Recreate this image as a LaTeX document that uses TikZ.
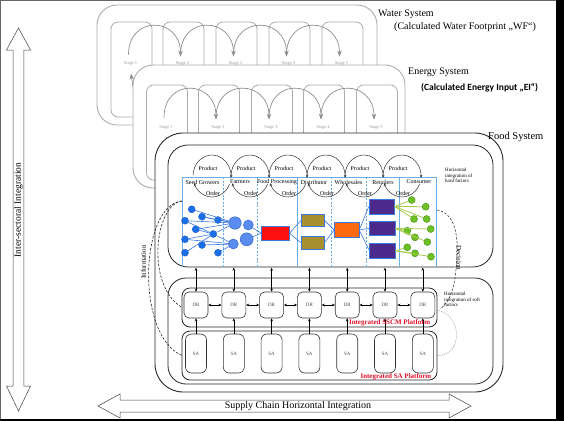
\documentclass[tikz,border=0pt]{standalone}
\usepackage{fontspec}
\setmainfont{Liberation Serif}
\newfontfamily\carlito{Carlito}
\usetikzlibrary{arrows.meta,calc}
\definecolor{sysgray}{HTML}{ABABAB}
\definecolor{arcgray}{HTML}{8E8E8E}
\definecolor{stagetxt}{HTML}{9A9A9A}
\definecolor{seedblue}{HTML}{1A6FE8}
\definecolor{seedborder}{HTML}{1050C0}
\definecolor{farmblue}{HTML}{5A8CF0}
\definecolor{farmborder}{HTML}{2A5CC8}
\definecolor{lineblue}{HTML}{3A7AE0}
\definecolor{colblue}{HTML}{6AAEE8}
\definecolor{boxred}{HTML}{FF1010}
\definecolor{boxolive}{HTML}{A8902E}
\definecolor{boxorange}{HTML}{FF6A10}
\definecolor{boxpurple}{HTML}{4B2A8C}
\definecolor{dotgreen}{HTML}{6EC024}
\definecolor{dotgreenb}{HTML}{3F8F10}
\definecolor{glines}{HTML}{A8CC50}
\definecolor{platred}{HTML}{E0102A}
\begin{document}
\begin{tikzpicture}[x=1pt,y=-1pt,
  sysbox/.style={draw=sysgray, line width=0.9pt, fill=white, rounded corners=20pt},
  stagebox/.style={draw=sysgray, line width=0.8pt, rounded corners=7pt, minimum width=41pt, minimum height=95pt, inner sep=0pt},
  stagelbl/.style={text=stagetxt, font=\fontsize{4.5}{5}\selectfont, inner sep=0.5pt},
  stagearr/.style={draw=arcgray, line width=0.7pt, -{Stealth[length=6pt,width=4.5pt]}},
  bigarrow/.style={draw=black!75, line width=0.5pt, fill=white, line join=miter},
  frame/.style={draw=black!85, line width=0.8pt, rounded corners=#1, inner sep=0pt, outer sep=0pt},
  frame/.default=8pt,
  colline/.style={draw=colblue, line width=0.6pt},
  coldash/.style={draw=colblue, line width=0.6pt, dashed, dash pattern=on 2pt off 1.5pt},
  collbl/.style={font=\fontsize{6}{7}\selectfont, inner sep=0pt},
  cyc/.style={draw=black!80, line width=0.5pt, -{Stealth[length=3pt,width=2.6pt]}},
  sdot/.style={circle, fill=seedblue, draw=seedborder, line width=0.3pt, inner sep=0pt, minimum size=7pt},
  fdot/.style={circle, fill=farmblue, draw=farmborder, line width=0.4pt, inner sep=0pt},
  gdot/.style={circle, fill=dotgreen, draw=dotgreenb, line width=0.4pt, inner sep=0pt, minimum size=7pt},
  cbox/.style={draw=lineblue, line width=0.5pt, inner sep=0pt},
  bline/.style={draw=lineblue, line width=0.6pt},
  gline/.style={draw=glines, line width=0.8pt},
  drbox/.style={draw=black!80, line width=0.6pt, rounded corners=5pt, minimum width=24pt, minimum height=26pt, inner sep=0pt, font=\fontsize{5}{6}\selectfont, text=black!70},
  sabox/.style={draw=black!80, line width=0.6pt, rounded corners=6pt, minimum width=21pt, minimum height=39pt, inner sep=0pt, font=\fontsize{5}{6}\selectfont, text=black!70},
  dbl/.style={line width=0.5pt, {Stealth[length=3pt,width=2.6pt]}-{Stealth[length=3pt,width=2.6pt]}},
  upar/.style={line width=0.5pt, -{Stealth[length=3pt,width=2.6pt]}},
  platlbl/.style={text=platred, font=\bfseries\fontsize{7}{8}\selectfont, inner sep=0.5pt},
  smalltxt/.style={font=\fontsize{5}{6}\selectfont, align=left, inner sep=0pt},
  infocurve/.style={draw=black!85, line width=0.6pt, dashed, dash pattern=on 2.5pt off 1.5pt},
]
% background and frame
\fill[black] (0,0) rectangle (564,421);
\fill[white] (0,0) rectangle (556,419);
\draw[black!60, line width=0.8pt] (0.4,419) -- (0.4,0.4) -- (556,0.4);
\useasboundingbox (0,0) rectangle (564,421);

% big arrows
\draw[bigarrow] (18.5,28) -- (30.5,50) -- (23.8,50) -- (23.8,386) -- (30.5,386) -- (18.5,411)
  -- (6.5,386) -- (13.2,386) -- (13.2,50) -- (6.5,50) -- cycle;
\node[rotate=90, font=\fontsize{9.5}{11}\selectfont, inner sep=0pt] (intl) at (18.5,210) {Inter-sectoral Integration};
\draw[bigarrow] (98,406) -- (120,394) -- (120,400) -- (449,400) -- (449,394) -- (471,406)
  -- (449,418) -- (449,412) -- (120,412) -- (120,418) -- cycle;
\node[font=\fontsize{10}{12}\selectfont, inner sep=0pt] (sclbl) at (298,406) {Supply Chain Horizontal Integration};

% ---------------- Water system
\draw[sysbox] (97,5) rectangle (377,125);
\foreach \x [count=\i] in {131.5,183.5,236.5,289.5,342.5}{
  \node[stagebox] (w\i) at (\x,69.5) {};
  \node[stagelbl, fill=white] (wl\i) at (\x-1,63) {Stage \i};
}
\foreach \i/\j in {1/2,2/3,3/4,4/5}{
  \draw[stagearr] ($(w\i.north)+(-3,33)$) .. controls +(0,-40) and +(0,-40) .. ($(w\j.north)+(-3,35)$);
}
\draw[stagearr] ($(w1.north)+(3,75)$) -- ($(w1.north)+(-0.5,52)$);
\node[anchor=west, font=\fontsize{10}{12}\selectfont, inner sep=0pt] (wsys) at (378,14) {Water System};
\node[anchor=west, font=\fontsize{10}{12}\selectfont, inner sep=0pt] (wfp) at (394,27) {(Calculated Water Footprint „WF“)};

% ---------------- Energy system
\draw[sysbox] (133,65) rectangle (405,188);
\foreach \x [count=\i] in {167,219,272,324,377}{
  \node[stagebox] (e\i) at (\x,132.5) {};
  \node[stagelbl, fill=white] (el\i) at (\x-1,127) {Stage \i};
}
\foreach \i/\j in {1/2,2/3,3/4,4/5}{
  \draw[stagearr] ($(e\i.north)+(-3,33)$) .. controls +(0,-40) and +(0,-40) .. ($(e\j.north)+(-3,35)$);
}
\draw[stagearr] ($(e1.north)+(2,72)$) -- ($(e1.north)+(-1,52)$);
\node[anchor=west, font=\fontsize{10}{12}\selectfont, inner sep=0pt] (esys) at (408,72) {Energy System};
\node[anchor=west, fill=white, inner sep=2pt, font=\carlito\bfseries\fontsize{9.5}{11}\selectfont] (ei) at (419,88) {(Calculated Energy Input „EI“)};

% ---------------- Food system
\node[frame=28pt, line width=0.9pt, fill=white, minimum width=348pt, minimum height=259pt] (food) at (329,262.5) {};
\node[anchor=west, font=\fontsize{10.5}{12}\selectfont, inner sep=0pt] (fsys) at (488,137) {Food System};
\node[frame=20pt, minimum width=325pt, minimum height=122pt] (hard) at (330.5,206) {};
\node[frame=18pt, minimum width=325pt, minimum height=106pt] (soft) at (330.5,331) {};
\node[frame=8pt, minimum width=255pt, minimum height=39pt] (drp) at (309.5,307.5) {};
\node[frame=8pt, minimum width=255pt, minimum height=49pt] (sap) at (309.5,355.5) {};

% columns
\draw[colline] (182,177) -- (436,177);
\foreach \x in {182,297,399,436}{ \draw[colline] (\x,177) -- (\x,267); }
\foreach \x in {223,257,331,366}{ \draw[coldash] (\x,177) -- (\x,267); }

% product / order cycles
\foreach \c [count=\i] in {212,250,288,326,364,402}{
  \coordinate (cy\i) at (\c,176);
  \draw[cyc] ($(cy\i)+(-178:19 and 21)$) arc[start angle=-178, end angle=5, x radius=19, y radius=21];
  \draw[cyc] ($(cy\i)+(22:19 and 21)$) arc[start angle=22, end angle=160, x radius=19, y radius=21];
  \node[collbl] (pr\i) at (\c-4,168.5) {Product};
  \node[collbl] (or\i) at (\c+1,193) {Order};
}
\node[collbl] (c1) at (202.5,182) {Seed Growers};
\node[collbl] (c2) at (240,182) {Farmers};
\node[collbl] (c3) at (277,182) {Food Processing};
\node[collbl] (c4) at (314,182) {Distributor};
\node[collbl] (c5) at (348.5,182) {Wholesales};
\node[collbl] (c6) at (383,182) {Retailers};
\node[collbl] (c7) at (419,182) {Consumer};
\node[smalltxt, anchor=north west] (hardtxt) at (445,168) {Horizontal\\[-0.6pt]integration of\\[-0.6pt]hard factors};

% hard factors network
\node[sdot] (s1) at (191.7,209.3) {};
\node[sdot] (s2) at (202,216.7) {};
\node[sdot] (s3) at (218,220) {};
\node[sdot] (s4) at (185,220.7) {};
\node[sdot] (s5) at (195.7,229.3) {};
\node[sdot] (s6) at (213.3,234) {};
\node[sdot] (s7) at (185,239.3) {};
\node[sdot] (s8) at (202,245) {};
\node[sdot] (s9) at (185,252.7) {};
\node[sdot] (s10) at (218,252.7) {};
\node[fdot, minimum size=12.5pt] (f1) at (235,223) {};
\node[fdot, minimum size=10pt] (f2) at (248.3,225) {};
\node[fdot, minimum size=13pt] (f3) at (246.7,239.3) {};
\node[fdot, minimum size=10pt] (f4) at (233.3,244) {};
\node[cbox, fill=boxred, minimum width=27.6pt, minimum height=13.3pt] (rd) at (275.5,233.3) {};
\node[cbox, fill=boxolive, minimum width=23.3pt, minimum height=12.4pt] (o1) at (312.7,220.5) {};
\node[cbox, fill=boxolive, minimum width=23.3pt, minimum height=13pt] (o2) at (312.7,242.5) {};
\node[cbox, fill=boxorange, minimum width=24.7pt, minimum height=14.6pt] (og) at (346.7,230) {};
\node[cbox, fill=boxpurple, minimum width=25.3pt, minimum height=15pt] (p1) at (381.7,206.5) {};
\node[cbox, fill=boxpurple, minimum width=25.3pt, minimum height=14.7pt] (p2) at (382.3,228.3) {};
\node[cbox, fill=boxpurple, minimum width=25.3pt, minimum height=15pt] (p3) at (382.3,250.8) {};
\node[gdot] (g1) at (411.7,200) {};
\node[gdot] (g2) at (425.7,206.7) {};
\node[gdot] (g3) at (414,219) {};
\node[gdot] (g4) at (426.7,219) {};
\node[gdot] (g5) at (407.3,230.7) {};
\node[gdot] (g6) at (430.7,229) {};
\node[gdot] (g7) at (415,237.3) {};
\node[gdot] (g8) at (427.3,242) {};
\node[gdot] (g9) at (407.3,247.3) {};
\node[gdot] (g10) at (415,253.3) {};
\node[gdot] (g11) at (431,256.7) {};
\foreach \a/\b in {s1/f1,s2/f1,s3/f1,s4/s6,s4/f1,s5/s6,s5/f1,s6/f1,s6/f4,s7/s6,s7/f4,s8/f4,s9/s6,s10/f4,s2/s3}{
  \draw[bline] (\a) -- (\b);
}
\draw[bline] (f2) -- (rd.west);
\draw[bline] (f3) -- (rd.west);
\draw[bline] (rd.east) -- (o1.west);
\draw[bline] (rd.east) -- (o2.west);
\draw[bline] (o1.east) -- (og.west);
\draw[bline] (o2.east) -- (og.west);
\draw[bline] (og.east) -- (p1.west);
\draw[bline] (og.east) -- (p2.west);
\draw[bline] (og.east) -- (p3.west);
\foreach \g in {g1,g2,g3,g4}{ \draw[gline] (p1.east) -- (\g); }
\foreach \g in {g5,g6,g7,g8}{ \draw[gline] (p2.east) -- (\g); }
\foreach \g in {g9,g10,g11}{ \draw[gline] (p3.east) -- (\g); }

% soft factors
\foreach \x [count=\i] in {196,233.8,271.6,309.4,347.2,385,422.8}{
  \node[drbox] (dr\i) at (\x,305) {DR};
  \node[sabox] (sa\i) at (\x,353.5) {SA};
  \draw[dbl] (dr\i.north) -- ++(0,-24);
  \draw[upar] (sa\i.north) -- (dr\i.south);
}
\foreach \i/\j in {1/2,2/3,3/4,4/5,5/6,6/7}{ \draw[dbl] (dr\i.east) -- (dr\j.west); }
\node[platlbl, anchor=east] (sscm) at (431,322.5) {Integrated SSCM Platform};
\node[platlbl, anchor=east] (sapl) at (432,377) {Integrated SA Platform};
\node[smalltxt, anchor=north west] (softtxt) at (444,292) {Horizontal\\[-0.6pt]integration of soft\\[-0.6pt]factors};

% information / decision curves
\coordinate (infos) at (182,201);
\draw[infocurve] (infos) .. controls (155,204) and (145,285) .. (drp.west);
\draw[infocurve] (infos) .. controls (140,205) and (135,335) .. (sap.west);
\node[rotate=90, font=\fontsize{7}{8}\selectfont, inner sep=0pt] (info) at (143.5,262) {Information};
\coordinate (decs) at (437,210);
\coordinate (dece) at (440,309);
\draw[infocurve, line width=0.5pt] (decs) .. controls (462,214) and (458,255) .. (455,278) .. controls (452,296) and (447,304) .. (dece);
\node[rotate=-90, font=\fontsize{7}{8}\selectfont, inner sep=0pt] (dec) at (459,258) {Decision};
\coordinate (dots) at (437,310);
\draw[draw=black!50, line width=0.4pt, dash pattern=on 1pt off 1pt] (dots) .. controls (463,315) and (463,356) .. (sap.east);
\end{tikzpicture}
\end{document}
